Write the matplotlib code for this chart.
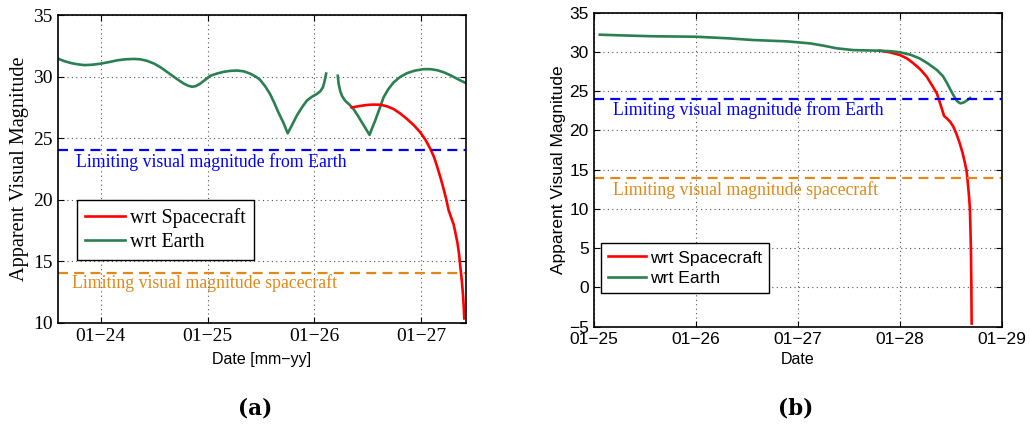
import matplotlib
matplotlib.use('Agg')
import matplotlib.pyplot as plt

SERIF = 'Liberation Serif'
SANS = 'Liberation Sans'
GREEN = '#2a8050'
RED = '#ff0000'
BLUE = '#0000ff'
ORANGE = '#e0891a'

# ---- panel (a): days in January ----
a_earth1_day = [23.60, 23.66, 23.72, 23.78, 23.845, 23.92, 24.00, 24.08, 24.156, 24.23,
                24.311, 24.37, 24.435, 24.50, 24.56, 24.62, 24.684, 24.73, 24.777, 24.82,
                24.855, 24.89, 24.932, 24.98, 25.025, 25.09, 25.15, 25.21, 25.274, 25.34,
                25.398, 25.45, 25.49, 25.54, 25.585, 25.625, 25.663, 25.71, 25.75, 25.79,
                25.835, 25.88, 25.929, 25.975, 26.022, 26.055, 26.079, 26.095, 26.11]
a_earth1_mag = [31.45, 31.25, 31.10, 31.00, 30.93, 30.96, 31.05, 31.18, 31.32, 31.40,
                31.43, 31.40, 31.27, 31.05, 30.75, 30.38, 29.98, 29.70, 29.43, 29.25,
                29.17, 29.22, 29.43, 29.75, 30.06, 30.25, 30.38, 30.46, 30.49, 30.42,
                30.24, 30.00, 29.75, 29.20, 28.58, 27.85, 27.09, 26.25, 25.39, 26.05,
                26.82, 27.45, 28.04, 28.35, 28.58, 28.80, 29.11, 29.60, 30.24]
a_earth2_day = [26.219, 26.226, 26.241, 26.26, 26.288, 26.33, 26.366, 26.405, 26.444,
                26.48, 26.516, 26.54, 26.569, 26.61, 26.647, 26.69, 26.741, 26.80,
                26.866, 26.94, 27.022, 27.085, 27.147, 27.21, 27.272, 27.34, 27.415]
a_earth2_mag = [30.06, 29.45, 28.84, 28.40, 28.04, 27.70, 27.36, 26.85, 26.28,
                25.78, 25.26, 25.80, 26.42, 27.40, 28.30, 28.95, 29.52, 29.95,
                30.27, 30.48, 30.60, 30.60, 30.52, 30.35, 30.11, 29.80, 29.48]
a_craft_day = [26.35, 26.42, 26.491, 26.55, 26.616, 26.68, 26.741, 26.80, 26.866, 26.93,
               26.991, 27.04, 27.085, 27.12, 27.15, 27.18, 27.21, 27.235, 27.256, 27.28,
               27.303, 27.32, 27.34, 27.355, 27.366, 27.38, 27.39, 27.398, 27.403]
a_craft_mag = [27.49, 27.60, 27.69, 27.72, 27.71, 27.58, 27.36, 27.02, 26.56, 26.05,
               25.47, 24.85, 24.13, 23.45, 22.65, 21.80, 20.85, 20.00, 19.15, 18.55,
               18.00, 17.30, 16.45, 15.50, 14.55, 13.40, 12.38, 11.30, 10.35]

# ---- panel (b) ----
b_earth_day = [25.06, 25.30, 25.58, 26.00, 26.30, 26.56, 26.89, 27.12, 27.25, 27.38,
               27.54, 27.80, 27.92, 28.00, 28.10, 28.19, 28.27, 28.36, 28.42, 28.46,
               28.50, 28.53, 28.56, 28.59, 28.62, 28.65, 28.685]
b_earth_mag = [32.20, 32.10, 32.00, 31.94, 31.75, 31.52, 31.35, 31.09, 30.80, 30.46,
               30.24, 30.16, 30.08, 29.95, 29.65, 29.18, 28.55, 27.70, 26.90, 26.00,
               25.00, 24.30, 23.70, 23.45, 23.55, 23.80, 24.13]
b_craft_day = [27.80, 27.90, 28.00, 28.07, 28.13, 28.20, 28.26, 28.31, 28.36, 28.40,
               28.43, 28.46, 28.49, 28.52, 28.55, 28.58, 28.61, 28.63, 28.65, 28.665,
               28.675, 28.683, 28.688, 28.693, 28.697, 28.70]
b_craft_mag = [30.16, 29.95, 29.60, 29.15, 28.55, 27.75, 26.85, 25.80, 24.70, 23.10,
               21.85, 21.50, 21.10, 20.50, 19.60, 18.50, 17.20, 16.10, 14.90, 13.00,
               11.50, 10.00, 7.50, 4.80, 0.50, -4.60]

earth_limit = 24
craft_limit = 14

a_ticks = [24, 25, 26, 27]
a_ticklabels = ['01\u221224', '01\u221225', '01\u221226', '01\u221227']
b_ticks = [25, 26, 27, 28, 29]
b_ticklabels = ['01\u221225', '01\u221226', '01\u221227', '01\u221228', '01\u221229']

fig = plt.figure(figsize=(10.3, 4.25), dpi=100)
ax1 = fig.add_axes([0.056, 0.2407, 0.396, 0.724])
ax2 = fig.add_axes([0.5764, 0.2313, 0.3967, 0.7388])


def style_axes(ax, tick_family, tick_size):
    ax.grid(True, linestyle=(0, (1, 3)), color='#555555', linewidth=0.8)
    ax.tick_params(direction='in', top=True, right=True, length=4, width=0.8)
    for s in ax.spines.values():
        s.set_linewidth(1.2)
    for lab in ax.get_xticklabels() + ax.get_yticklabels():
        lab.set_family(tick_family)
        lab.set_fontsize(tick_size)


dash = (0, (4.5, 2.8))

# panel (a)
ax1.plot(a_earth1_day, a_earth1_mag, color=GREEN, lw=1.9, label='wrt Earth')
ax1.plot(a_earth2_day, a_earth2_mag, color=GREEN, lw=1.9)
ax1.plot(a_craft_day, a_craft_mag, color=RED, lw=1.9, label='wrt Spacecraft')
ax1.axhline(earth_limit, color=BLUE, lw=1.6, linestyle=dash)
ax1.axhline(craft_limit, color=ORANGE, lw=1.6, linestyle=dash)
ax1.text(23.768, 23.05, 'Limiting visual magnitude from Earth', color=BLUE,
         family=SERIF, fontsize=12.8, va='center')
ax1.text(23.728, 13.25, 'Limiting visual magnitude spacecraft', color=ORANGE,
         family=SERIF, fontsize=12.8, va='center')
ax1.set_xlim(23.597, 27.415)
ax1.set_ylim(10, 35)
ax1.set_xticks(a_ticks)
ax1.set_xticklabels(a_ticklabels)
ax1.set_yticks([10, 15, 20, 25, 30, 35])
style_axes(ax1, SERIF, 14)
ax1.set_xlabel('Date [mm\u2212yy]', family=SANS, fontsize=11.5, labelpad=5)
ax1.set_ylabel('Apparent Visual Magnitude', family=SERIF, fontsize=14.6, labelpad=3)
h, l = ax1.get_legend_handles_labels()
leg1 = ax1.legend([h[1], h[0]], [l[1], l[0]], loc='upper left',
                  bbox_to_anchor=(0.047, 0.399), borderaxespad=0,
                  prop={'family': SERIF, 'size': 14.3},
                  fancybox=False, edgecolor='black', framealpha=1,
                  handlelength=2.0, handletextpad=0.3, borderpad=0.4,
                  labelspacing=0.28)
leg1.get_frame().set_linewidth(1.0)

# panel (b)
ax2.plot(b_craft_day, b_craft_mag, color=RED, lw=1.9, label='wrt Spacecraft')
ax2.plot(b_earth_day, b_earth_mag, color=GREEN, lw=1.9, label='wrt Earth')
ax2.axhline(earth_limit, color=BLUE, lw=1.6, linestyle=dash)
ax2.axhline(craft_limit, color=ORANGE, lw=1.6, linestyle=dash)
ax2.text(25.186, 22.6, 'Limiting visual magnitude from Earth', color=BLUE,
         family=SERIF, fontsize=12.8, va='center')
ax2.text(25.186, 12.41, 'Limiting visual magnitude spacecraft', color=ORANGE,
         family=SERIF, fontsize=12.8, va='center')
ax2.set_xlim(25, 29)
ax2.set_ylim(-5, 35)
ax2.set_xticks(b_ticks)
ax2.set_xticklabels(b_ticklabels)
ax2.set_yticks(list(range(-5, 36, 5)))
style_axes(ax2, SANS, 12.5)
ax2.set_xlabel('Date', family=SANS, fontsize=11.5, labelpad=4)
ax2.set_ylabel('Apparent Visual Magnitude', family=SANS, fontsize=12.5, labelpad=2)
leg2 = ax2.legend(loc='lower left', bbox_to_anchor=(0.017, 0.106), borderaxespad=0,
                  prop={'family': SANS, 'size': 12.6}, fancybox=False,
                  edgecolor='black', framealpha=1, handlelength=2.15,
                  handletextpad=0.25, borderpad=0.42, labelspacing=0.3)
leg2.get_frame().set_linewidth(1.0)

fig.text(0.2476, 0.04, '(a)', family='DejaVu Serif', weight='bold', fontsize=15.5,
         ha='center', va='center')
fig.text(0.772, 0.04, '(b)', family='DejaVu Serif', weight='bold', fontsize=15.5,
         ha='center', va='center')

fig.savefig('out.png', dpi=100)
